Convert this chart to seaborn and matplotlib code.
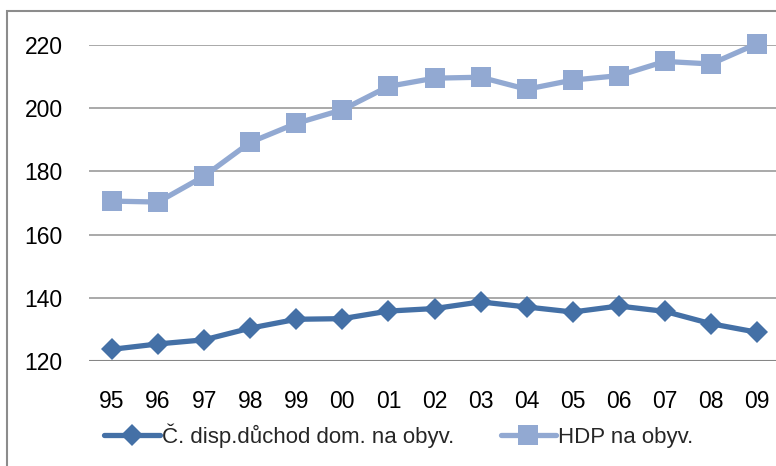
import matplotlib
matplotlib.use("Agg")
import matplotlib.pyplot as plt
import pandas as pd
import numpy as np
import seaborn as sns
from matplotlib.patches import Rectangle

# years on the category axis
years = ["95", "96", "97", "98", "99", "00", "01", "02", "03", "04", "05", "06", "07", "08", "09"]

# real disposable income of households per capita (index)
disp_income = [123.7, 125.4, 126.7, 130.4, 133.2, 133.4, 135.8, 136.6, 138.7, 137.1,
               135.5, 137.4, 135.7, 131.8, 129.1]

# GDP per capita (index)
gdp = [170.6, 170.3, 178.5, 189.2, 195.2, 199.5, 206.9, 209.5, 209.8, 206.0,
       208.9, 210.3, 214.8, 214.0, 220.4]

label_disp = "Č. disp.důchod dom. na obyv."
label_gdp = "HDP na obyv."

df = pd.DataFrame({"pos": np.arange(len(years)), "year": years,
                   "disp": disp_income, "gdp": gdp})

sns.set_style("white")
plt.rcParams['font.family'] = ['Liberation Sans', 'DejaVu Sans']

W, H = 776, 466
fig = plt.figure(figsize=(W / 100, H / 100), dpi=100)

# plot area in pixels: left 89, right 780 (beyond the cropped edge), y 45..361
left, right, top, bottom = 89, 780, 45, 361
ax = fig.add_axes([left / W, 1 - bottom / H, (right - left) / W, (bottom - top) / H])

c_disp = "#4470A6"
c_gdp = "#92A9D2"

sns.lineplot(data=df, x="pos", y="disp", ax=ax, color=c_disp, linewidth=3.8,
             marker="D", markersize=11, markeredgewidth=0, label=label_disp,
             clip_on=False, zorder=4)
sns.lineplot(data=df, x="pos", y="gdp", ax=ax, color=c_gdp, linewidth=3.8,
             marker="s", markersize=14, markeredgewidth=0, label=label_gdp,
             clip_on=False, zorder=3)

ax.set_xlim(-0.5, len(years) - 0.5)
ax.set_ylim(120, 220)
ax.set_yticks([120, 140, 160, 180, 200, 220])
ax.set_xticks(df["pos"])
ax.set_xticklabels(years)
ax.set_xlabel("")
ax.set_ylabel("")

for y in [140, 160, 180, 200, 220]:
    ax.axhline(y, color="#A3A3A3", linewidth=1.3, zorder=1)
ax.axhline(120, color="#868686", linewidth=1.5, zorder=2)

for s in ax.spines.values():
    s.set_visible(False)

ax.tick_params(axis="y", length=0, pad=19, labelsize=16.5, labelcolor="black")
ax.tick_params(axis="x", length=0, pad=21, labelsize=16.5, labelcolor="black")

ax.legend_.remove()
handles, labels = ax.get_legend_handles_labels()
fig.legend(handles, labels, loc="center left",
           bbox_to_anchor=(104 / W, 1 - 436 / H), ncol=2, frameon=False,
           fontsize=16, handlelength=2.5, handletextpad=0.1, columnspacing=2.1,
           borderpad=0, borderaxespad=0)

# chart border (cropped on the right and bottom)
fig.patches.append(Rectangle((7 / W, -0.1), 1.2, 1.1 - 11 / H, transform=fig.transFigure,
                             fill=False, edgecolor="#8C8C8C", linewidth=1.5))

fig.savefig("out.png", dpi=100)
